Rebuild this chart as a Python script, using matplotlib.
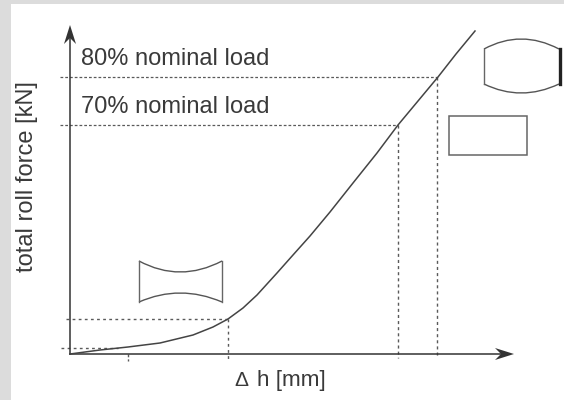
# %%
import matplotlib
matplotlib.use("Agg")
import matplotlib.pyplot as plt
from matplotlib.patches import PathPatch, Rectangle
from matplotlib.path import Path

plt.rcParams["font.family"] = ["Liberation Sans", "DejaVu Sans"]

curve_x = [70, 100, 128, 160, 193, 213, 228, 243, 257, 277, 293, 310, 330, 353, 377,
           398, 418, 438, 456, 475]
curve_y = [354, 350, 347, 343, 335, 327, 319, 308, 295, 273, 255, 236, 212, 183, 153,
           125, 101, 77, 54, 31]

load_levels_y = [77, 125]
load_levels_x = [437, 398]
load_labels = ["80% nominal load", "70% nominal load"]
low_levels_y = [319, 348]
low_levels_x = [228, 128]
ink = "#333333"
dot = "#5a5a5a"
text_color = "#3a3a3a"

fig = plt.figure(figsize=(5.64, 4.0), dpi=100, facecolor="#dcdcdc")
ax = fig.add_axes([0, 0, 1, 1])
ax.set_xlim(0, 564)
ax.set_ylim(400, 0)
ax.axis("off")

# white sheet on the grey page
ax.add_patch(Rectangle((11, 4), 553, 396, fc="white", ec="none", zorder=0))

# dotted guides
for y, x in zip(load_levels_y, load_levels_x):
    ax.plot([60, x], [y, y], color=dot, lw=0.9, ls=(0, (2.2, 1.6)))
    ax.plot([x, x], [y, 358], color=dot, lw=1.0, ls=(0, (2.2, 2.2)))
ax.plot([66, low_levels_x[0]], [low_levels_y[0]] * 2, color=dot, lw=1.0, ls=(0, (2, 2.4)))
ax.plot([61, 118], [low_levels_y[1]] * 2, color=dot, lw=1.0, ls=(0, (2, 2.4)))
ax.plot([low_levels_x[0]] * 2, [low_levels_y[0], 360], color=dot, lw=1.0, ls=(0, (2, 2.4)))
ax.plot([low_levels_x[1]] * 2, [354, 361], color=dot, lw=1.0, ls=(0, (2, 1.5)))

# axes with arrow heads
ax.plot([70, 70], [354, 34], color=ink, lw=1.1)
ax.plot([70, 508], [354, 354], color=ink, lw=1.1)
ax.add_patch(PathPatch(Path([(70, 25), (76, 44), (70, 38), (64, 44), (70, 25)]),
                       fc=ink, ec="none"))
ax.add_patch(PathPatch(Path([(514, 354), (495, 348), (501, 354), (495, 360), (514, 354)]),
                       fc=ink, ec="none"))

ax.plot(curve_x, curve_y, color="#444444", lw=1.1)

# barrel shaped section
barrel = Path(
    [(484, 49), (521, 29), (559, 49), (484, 84), (521, 102), (559, 84)],
    [Path.MOVETO, Path.CURVE3, Path.CURVE3, Path.MOVETO, Path.CURVE3, Path.CURVE3],
)
ax.add_patch(PathPatch(barrel, fc="none", ec="#555555", lw=1.0))
ax.plot([484, 484], [49, 84], color="#666666", lw=1.0)
ax.plot([559.5, 559.5], [49, 84], color="#222222", lw=2.4)

# flat section
ax.add_patch(Rectangle((448.5, 116), 78.5, 39, fc="none", ec="#666666", lw=1.1))

# concave section
waist = Path(
    [(139, 261), (180, 283), (222, 261), (139, 302), (180, 284), (222, 302)],
    [Path.MOVETO, Path.CURVE3, Path.CURVE3, Path.MOVETO, Path.CURVE3, Path.CURVE3],
)
ax.add_patch(PathPatch(waist, fc="none", ec="#555555", lw=1.0))
ax.plot([139, 139], [261, 302], color="#666666", lw=1.0)
ax.plot([222, 222], [261, 302], color="#666666", lw=1.0)

# labels
for y, label in zip([65, 113], load_labels):
    ax.text(81, y, label, fontsize=17, color=text_color, va="baseline", ha="left")
ax.text(33, 272, "total roll force [kN]", fontsize=17, color=text_color, rotation=90,
        ha="left", va="baseline", rotation_mode="anchor")
ax.text(234, 386, "Δ", fontsize=15, color=text_color, ha="left", va="baseline")
ax.text(257, 386, "h [mm]", fontsize=16.2, color=text_color, ha="left", va="baseline")

fig.savefig("out.png", dpi=100, facecolor=fig.get_facecolor())
